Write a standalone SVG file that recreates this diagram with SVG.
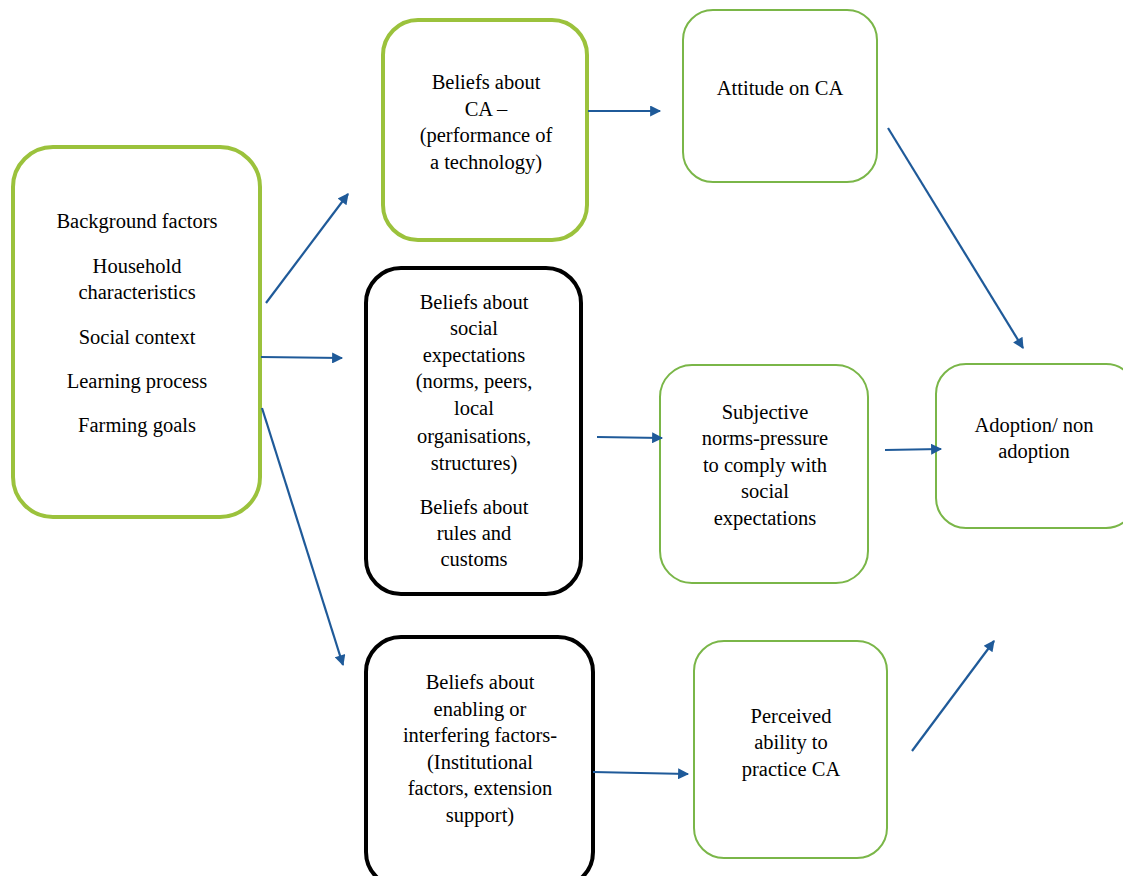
<svg xmlns="http://www.w3.org/2000/svg" width="1123" height="876" viewBox="0 0 1123 876">
<defs>
<marker id="ah" viewBox="0 0 10 10" refX="9" refY="5" markerWidth="13" markerHeight="11" markerUnits="userSpaceOnUse" orient="auto">
<path d="M0,0 L10,5 L0,10 z" fill="#1f5a99"/>
</marker>
<style>
.thickg{fill:#fff;stroke:#9bc23c;stroke-width:4}
.thin{fill:#fff;stroke:#7ab648;stroke-width:2}
.blk{fill:#fff;stroke:#000;stroke-width:4}
text{font-size:20.5px;fill:#000;text-anchor:middle}
.c line{stroke:#1f5a99;stroke-width:2.2;marker-end:url(#ah)}
</style>
</defs>
<rect width="1123" height="876" fill="#fff"/>
<g font-family="Liberation Serif, Times New Roman, Tinos, Noto Serif, serif">
<g id="background">
<rect class="thickg" x="13" y="147" width="247" height="370" rx="40"/>
<text x="137" y="228">Background factors</text>
<text x="137" y="273">Household</text>
<text x="137" y="299">characteristics</text>
<text x="137" y="344">Social context</text>
<text x="137" y="388">Learning process</text>
<text x="137" y="432">Farming goals</text>
</g>
<g id="beliefs-ca">
<rect class="thickg" x="383" y="20" width="204" height="220" rx="35"/>
<text x="486" y="89">Beliefs about</text>
<text x="486" y="116">CA –</text>
<text x="486" y="142">(performance of</text>
<text x="486" y="169">a technology)</text>
</g>
<g id="attitude">
<rect class="thin" x="683" y="10" width="194" height="172" rx="30"/>
<text x="780" y="95">Attitude on CA</text>
</g>
<g id="beliefs-social">
<rect class="blk" x="366" y="268" width="215" height="326" rx="35"/>
<text x="474" y="309">Beliefs about</text>
<text x="474" y="335">social</text>
<text x="474" y="362">expectations</text>
<text x="474" y="388">(norms, peers,</text>
<text x="474" y="415">local</text>
<text x="474" y="443">organisations,</text>
<text x="474" y="470">structures)</text>
<text x="474" y="514">Beliefs about</text>
<text x="474" y="540">rules and</text>
<text x="474" y="566">customs</text>
</g>
<g id="subjective">
<rect class="thin" x="660" y="365" width="208" height="218" rx="32"/>
<text x="765" y="419">Subjective</text>
<text x="765" y="445">norms-pressure</text>
<text x="765" y="472">to comply with</text>
<text x="765" y="498">social</text>
<text x="765" y="525">expectations</text>
</g>
<g id="adoption">
<rect class="thin" x="936" y="364" width="200" height="164" rx="30"/>
<text x="1034" y="432">Adoption/ non</text>
<text x="1034" y="458">adoption</text>
</g>
<g id="beliefs-enabling">
<rect class="blk" x="366" y="637" width="227" height="250" rx="35"/>
<text x="480" y="689">Beliefs about</text>
<text x="480" y="716">enabling or</text>
<text x="480" y="742">interfering factors-</text>
<text x="480" y="769">(Institutional</text>
<text x="480" y="795">factors, extension</text>
<text x="480" y="822">support)</text>
</g>
<g id="perceived">
<rect class="thin" x="694" y="641" width="193" height="217" rx="30"/>
<text x="791" y="723">Perceived</text>
<text x="791" y="749">ability to</text>
<text x="791" y="776">practice CA</text>
</g>
</g>
<g id="connectors" class="c">
<line x1="266" y1="303" x2="348" y2="194"/>
<line x1="261" y1="357" x2="342" y2="358"/>
<line x1="262" y1="408" x2="343" y2="665"/>
<line x1="588" y1="111" x2="660" y2="111"/>
<line x1="888" y1="128" x2="1023" y2="348"/>
<line x1="597" y1="437" x2="662" y2="438"/>
<line x1="885" y1="450" x2="941" y2="449"/>
<line x1="593" y1="772" x2="688" y2="774"/>
<line x1="912" y1="751" x2="994" y2="641"/>
</g>
</svg>
